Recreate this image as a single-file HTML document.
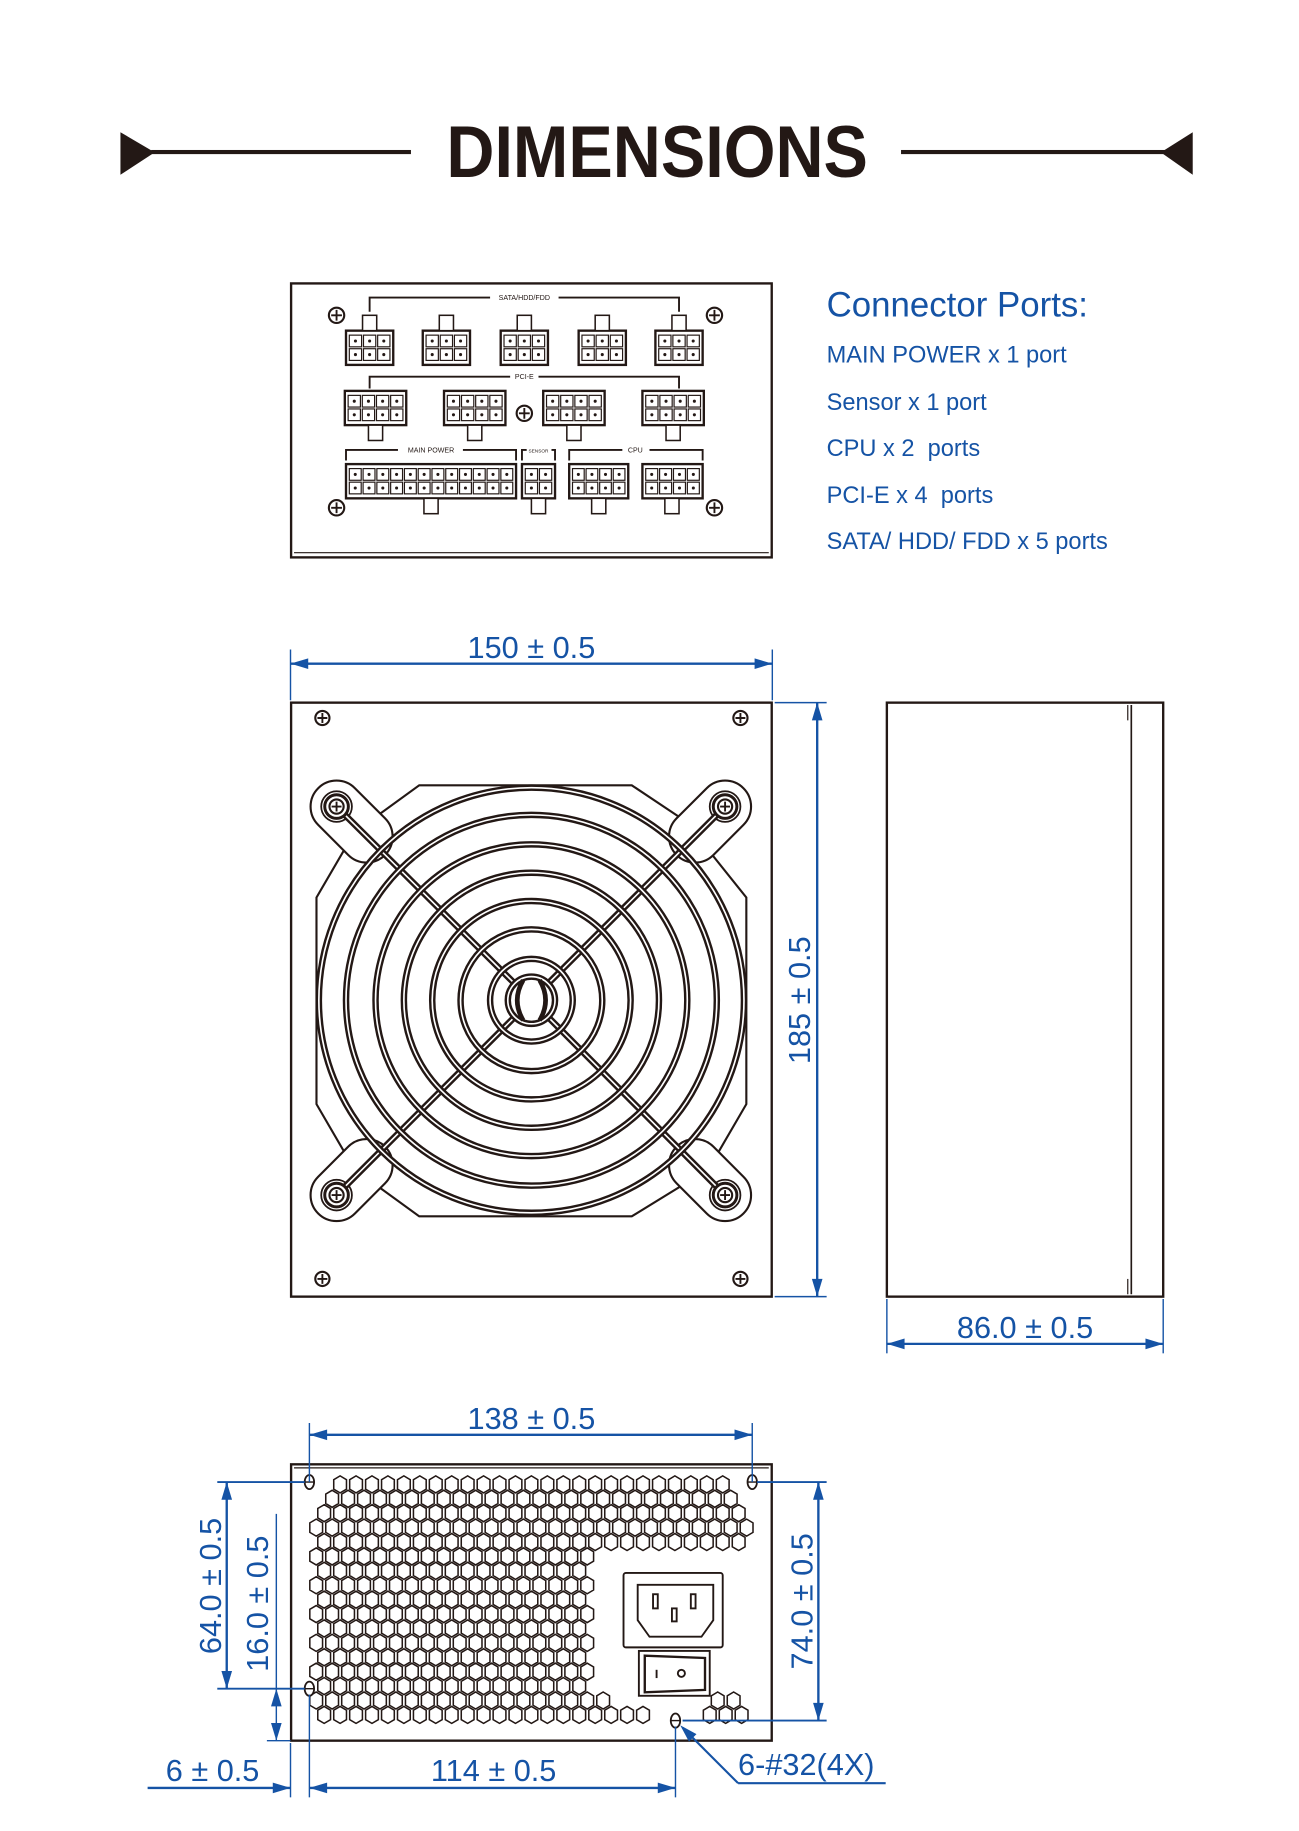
<!DOCTYPE html>
<html><head><meta charset="utf-8"><style>
html,body{margin:0;padding:0;background:#fff}
svg{display:block}
text{font-family:"Liberation Sans",sans-serif}
</style></head><body>
<svg id="s" xmlns="http://www.w3.org/2000/svg" width="1299" height="1831" viewBox="0 0 1100 1550.5" preserveAspectRatio="none">
<rect width="1100" height="1550.5" fill="#fff"/>
<polygon points="102,112 131,129 102,148" fill="#231815"/>
<rect x="128" y="127" width="220" height="3.5" fill="#231815"/>
<rect x="763" y="127" width="224" height="3.5" fill="#231815"/>
<polygon points="1010,112 983,129 1010,148" fill="#231815"/>
<text x="378" y="150" font-size="62" font-weight="bold" fill="#231815" textLength="357" lengthAdjust="spacingAndGlyphs">DIMENSIONS</text>

<g id="top" fill="none" stroke="#231815" stroke-width="1.6">
<rect x="246.5" y="240" width="407" height="232" stroke-width="2"/>
<line x1="249" y1="468" x2="651" y2="468" stroke-width="1"/>
<polyline points="313,264 313,252 415,252"/><polyline points="473,252 575,252 575,264"/>
<polyline points="313,329 313,319 432,319"/><polyline points="456,319 575,319 575,329"/>
<polyline points="293,390 293,381 337,381"/><polyline points="392,381 437,381 437,390"/>
<polyline points="442,390 442,381 446,381"/><polyline points="467,381 470,381 470,390"/>
<polyline points="482,390 482,381 527,381"/><polyline points="550,381 595,381 595,390"/>
</g>
<g font-size="6" fill="#231815" text-anchor="middle">
<text x="444" y="254">SATA/HDD/FDD</text>
<text x="444" y="321">PCI-E</text>
<text x="365" y="383">MAIN POWER</text>
<text x="456" y="383" font-size="4">SENSOR</text>
<text x="538" y="383">CPU</text>
</g>
<g id="conn"></g>

<g fill="#1553a5" font-size="29.5">
<text x="700" y="268">Connector Ports:</text>
<g font-size="20">
<text x="700" y="307">MAIN POWER x 1 port</text>
<text x="700" y="347">Sensor x 1 port</text>
<text x="700" y="386">CPU x 2&#160; ports</text>
<text x="700" y="426">PCI-E x 4&#160; ports</text>
<text x="700" y="465">SATA/ HDD/ FDD x 5 ports</text>
</g></g>

<rect x="246.5" y="595" width="407" height="503" fill="none" stroke="#231815" stroke-width="2"/>
<g id="fan"></g>

<g fill="none" stroke="#231815" stroke-width="2">
<rect x="751" y="595" width="234" height="503"/>
<line x1="958" y1="597" x2="958" y2="1096" stroke-width="1.4"/>
<line x1="955" y1="597" x2="955" y2="610" stroke-width="1"/>
<line x1="955" y1="1083" x2="955" y2="1096" stroke-width="1"/>
</g>

<rect x="246.5" y="1240" width="407" height="234" fill="none" stroke="#231815" stroke-width="2"/>
<line x1="249" y1="1243" x2="651" y2="1243" stroke="#231815" stroke-width="1"/>
<g id="hex"></g>
<g fill="none" stroke="#231815" stroke-width="1.6">
<rect x="528" y="1332" width="84" height="63" rx="2" fill="#fff"/>
<path d="M540,1342 H604 V1372 L594,1386 H550 L540,1372 Z"/>
<rect x="553" y="1350" width="4" height="12"/><rect x="585" y="1350" width="4" height="12"/><rect x="569" y="1362" width="4" height="11"/>
<rect x="541" y="1398" width="60" height="38" fill="#fff"/>
<path d="M546,1402 L597,1404 L597,1431 L546,1433 Z" stroke-width="2"/>
<line x1="556" y1="1414" x2="556" y2="1421"/><circle cx="577" cy="1417" r="3"/>
</g>
<g id="dims"></g>
</svg>
<script>
var NS="http://www.w3.org/2000/svg";
function el(p,t,a){var e=document.createElementNS(NS,t);for(var k in a)e.setAttribute(k,a[k]);p.appendChild(e);return e;}
var K="#231815",B="#1553a5";
function screw(p,x,y,r){el(p,"circle",{cx:x,cy:y,r:r,fill:"none",stroke:K,"stroke-width":1.8});
 el(p,"path",{d:"M"+(x-r*0.7)+","+y+"H"+(x+r*0.7)+"M"+x+","+(y-r*0.7)+"V"+(y+r*0.7),stroke:K,"stroke-width":1.6});}
var c=document.getElementById("conn");
function conn(x1,x2,y1,y2,cols,rows,tabx,tabTop){
 el(c,"rect",{x:x1,y:y1,width:x2-x1,height:y2-y1,fill:"#fff",stroke:K,"stroke-width":2});
 var tw=12; if(tabTop) el(c,"rect",{x:tabx-6,y:y1-13,width:tw,height:13,fill:"#fff",stroke:K,"stroke-width":1.3});
 else el(c,"rect",{x:tabx-6,y:y2,width:tw,height:13,fill:"#fff",stroke:K,"stroke-width":1.3});
 var pw=(x2-x1-4)/cols,ph=(y2-y1-6)/rows;
 for(var i=0;i<cols;i++)for(var j=0;j<rows;j++){
  var px=x1+2+i*pw,py=y1+3+j*ph;
  el(c,"rect",{x:px+0.8,y:py+0.8,width:pw-1.6,height:ph-1.6,fill:"none",stroke:K,"stroke-width":1});
  el(c,"circle",{cx:px+pw/2,cy:py+ph/2,r:1.3,fill:K});}
}
[313,378,444,510,575].forEach(function(x){conn(x-20,x+20,280,309,3,2,x,true);});
[318,402,486,570].forEach(function(x){conn(x-26,x+26,331,360,4,2,x,false);});
conn(293,437,393,422,12,2,365,false);
conn(442,470,393,422,2,2,456,false);
conn(482,532,393,422,4,2,507,false);
conn(544,595,393,422,4,2,569,false);
[[285,267],[605,267],[285,430],[605,430],[444,350]].forEach(function(p){screw(c,p[0],p[1],6.5);});
var f=document.getElementById("fan"),cx=450,cy=847;
[[273,608],[627,608],[273,1083],[627,1083]].forEach(function(p){screw(f,p[0],p[1],6);});
el(f,"path",{d:"M395,665 H505 L535,665 L580,695 L632,760 V935 L600,990 L535,1030 H395 L355,1030 L300,990 L268,935 V760 L300,705 L355,665 Z",fill:"#fff",stroke:K,"stroke-width":1.8});
[[285,683,1,1],[614,683,-1,1],[285,1012,1,-1],[614,1012,-1,-1]].forEach(function(q){
 var x=q[0],y=q[1],sx=q[2],sy=q[3];
 var g=el(f,"g",{transform:"translate("+x+","+y+") rotate("+(Math.atan2(sy,sx)*180/Math.PI)+")"});
 el(g,"rect",{x:-22,y:-22,width:80,height:44,rx:22,fill:"#fff",stroke:K,"stroke-width":1.8});
 el(g,"circle",{cx:0,cy:0,r:13,fill:"none",stroke:K,"stroke-width":1.5});
});
function dl(x1,y1,x2,y2){el(f,"line",{x1:x1,y1:y1,x2:x2,y2:y2,stroke:K,"stroke-width":5.5,"stroke-linecap":"round"});el(f,"line",{x1:x1,y1:y1,x2:x2,y2:y2,stroke:"#fff","stroke-width":1.4});}
dl(285,683,cx,cy);dl(614,683,cx,cy);dl(285,1012,cx,cy);dl(614,1012,cx,cy);
[180,157,132,108,84,60,35].forEach(function(r){
 el(f,"circle",{cx:cx,cy:cy,r:r,fill:"none",stroke:K,"stroke-width":5.5});
 el(f,"circle",{cx:cx,cy:cy,r:r,fill:"none",stroke:"#fff","stroke-width":1.4});});
el(f,"circle",{cx:cx,cy:cy,r:20,fill:"#fff",stroke:K,"stroke-width":5.5});
el(f,"circle",{cx:cx,cy:cy,r:20,fill:"none",stroke:"#fff","stroke-width":1.4});
el(f,"path",{d:"M443,830 Q433,847 443,864 M457,830 Q467,847 457,864",fill:"none",stroke:K,"stroke-width":4});
[[285,683],[614,683],[285,1012],[614,1012]].forEach(function(p){
 el(f,"circle",{cx:p[0],cy:p[1],r:10,fill:"#fff",stroke:K,"stroke-width":2.5});screw(f,p[0],p[1],6);});
var h=document.getElementById("hex");
var rows=[[282,617],[272,625],[268,628],[261,635],[268,628],[261,501],[268,501],[261,501],[268,501],[261,501],[268,501],[261,501],[268,501],[261,501],[268,501],[261,515],[268,547]];
var d="";
rows.forEach(function(r,i){
 var y=1257+i*12.2,off=(i%2)*6.75;
 for(var x=261+off;x<=r[1]+0.1;x+=13.5){ if(x<r[0]-0.1) continue; d+=hx(x,y);}
 if(i>=15){for(var x2=601+off;x2<=634;x2+=13.5)d+=hx(x2,y);}
});
function hx(x,y){return "M"+x+","+(y-7.2)+"L"+(x+5.4)+","+(y-4)+"V"+(y+4)+"L"+x+","+(y+7.2)+"L"+(x-5.4)+","+(y+4)+"V"+(y-4)+"Z";}
el(h,"path",{d:d,fill:"none",stroke:K,"stroke-width":1.3});
[[262,1255],[637,1255],[262,1430],[572,1457]].forEach(function(p){
 el(h,"ellipse",{cx:p[0],cy:p[1],rx:4,ry:6,fill:"#fff",stroke:K,"stroke-width":1.5});
 el(h,"line",{x1:p[0]-4,y1:p[1],x2:p[0]+4,y2:p[1],stroke:K,"stroke-width":1.2});});
var D=document.getElementById("dims");
function ln(x1,y1,x2,y2,w){el(D,"line",{x1:x1,y1:y1,x2:x2,y2:y2,stroke:B,"stroke-width":w||1.6});}
function ah(x,y,dx,dy){var L=15,W=4.5,bx=x-dx*L,by=y-dy*L;
 el(D,"polygon",{points:x+","+y+" "+(bx-dy*W)+","+(by+dx*W)+" "+(bx+dy*W)+","+(by-dx*W),fill:B});}
function txt(x,y,s,rot){var a={x:x,y:y,"font-size":26,fill:B,"text-anchor":"middle"};if(rot)a.transform="rotate(-90 "+x+" "+y+")";var t=el(D,"text",a);t.textContent=s;}
ln(246,550,246,593,1.2);ln(654,550,654,593,1.2);ln(246,562,654,562,2);ah(246,562,-1,0);ah(654,562,1,0);txt(450,557,"150 ± 0.5");
ln(656,595,700,595,1.2);ln(656,1098,700,1098,1.2);ln(692,595,692,1098,2);ah(692,595,0,-1);ah(692,1098,0,1);txt(686,847,"185 ± 0.5",1);
ln(751,1100,751,1146,1.2);ln(985,1100,985,1146,1.2);ln(751,1138,985,1138,2);ah(751,1138,-1,0);ah(985,1138,1,0);txt(868,1133,"86.0 ± 0.5");
ln(262,1205,262,1255,1.2);ln(637,1205,637,1255,1.2);ln(262,1215,637,1215,2);ah(262,1215,-1,0);ah(637,1215,1,0);txt(450,1210,"138 ± 0.5");
ln(641,1255,700,1255,1.6);ln(578,1457,700,1457,1.6);ln(693,1255,693,1457,2);ah(693,1255,0,-1);ah(693,1457,0,1);txt(688,1356,"74.0 ± 0.5",1);
ln(184,1255,258,1255,1.6);ln(184,1430,258,1430,1.6);ln(192,1255,192,1430,2);ah(192,1255,0,-1);ah(192,1430,0,1);txt(187,1343,"64.0 ± 0.5",1);
ln(234,1282,234,1474,1.2);ln(226,1474,246,1474,1.2);ah(234,1430,0,-1);ah(234,1474,0,1);txt(227,1358,"16.0 ± 0.5",1);
ln(246,1476,246,1522,1.2);ln(262,1435,262,1522,1.2);ln(572,1462,572,1522,1.2);
ln(125,1514,246,1514,2);ah(246,1514,1,0);txt(180,1508,"6 ± 0.5");
ln(262,1514,572,1514,2);ah(262,1514,-1,0);ah(572,1514,1,0);txt(418,1508,"114 ± 0.5");
ln(625,1510,578,1463,1.8);ah(576,1461,-0.707,-0.707);ln(625,1510,750,1510,1.8);
var t=el(D,"text",{x:625,y:1503,"font-size":26,fill:B});t.textContent="6-#32(4X)";
</script>
</body></html>
